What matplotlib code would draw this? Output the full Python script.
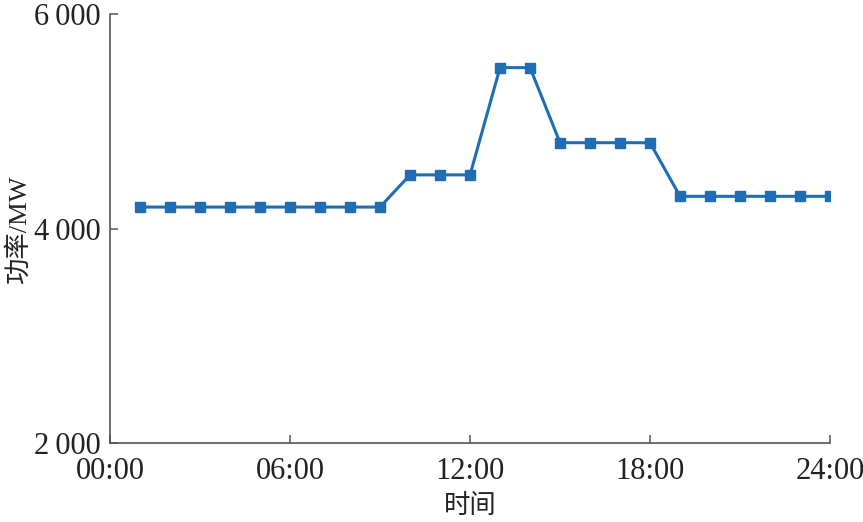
"""Hourly power profile (功率/MW vs 时间), step-like load curve with square markers."""

import matplotlib

matplotlib.use("Agg")
import matplotlib.pyplot as plt  # noqa: E402
from matplotlib.ticker import FuncFormatter  # noqa: E402

plt.rcParams["font.family"] = ["Liberation Serif", "Noto Sans CJK SC", "DejaVu Sans"]

# Hour of day for each point and the power reading at that hour.
hours = list(range(1, 25))
power_mw = [
    4200, 4200, 4200, 4200, 4200, 4200, 4200, 4200, 4200,
    4500, 4500, 4500,
    5500, 5500,
    4800, 4800, 4800, 4800,
    4300, 4300, 4300, 4300, 4300, 4300,
]

x_ticks = [0, 6, 12, 18, 24]
x_tick_labels = ["00:00", "06:00", "12:00", "18:00", "24:00"]
y_ticks = [2000, 4000, 6000]

LINE_COLOUR = "#1f6db5"
AXIS_COLOUR = "#555555"


def _thousands(v, _pos):
    # thin space as the thousands separator, like the printed figure
    return f"{int(v):,}".replace(",", "\u2009")


fig = plt.figure(figsize=(8.63, 5.22), dpi=100)
ax = fig.add_axes([0.1275, 0.1513, 0.8343, 0.8219])

ax.plot(
    hours,
    power_mw,
    color=LINE_COLOUR,
    linewidth=2.2,
    marker="s",
    markersize=7.5,
    markerfacecolor=LINE_COLOUR,
    markeredgecolor=LINE_COLOUR,
)

ax.set_xlim(0, 24)
ax.set_ylim(2000, 6000)
ax.set_xticks(x_ticks)
ax.set_xticklabels(x_tick_labels)
ax.set_yticks(y_ticks)
ax.yaxis.set_major_formatter(FuncFormatter(_thousands))

for side in ("top", "right"):
    ax.spines[side].set_visible(False)
for side in ("left", "bottom"):
    ax.spines[side].set_color(AXIS_COLOUR)
    ax.spines[side].set_linewidth(1.2)

ax.tick_params(
    axis="both", direction="in", length=6, width=1.1,
    color=AXIS_COLOUR, labelsize=22, labelcolor="#222222",
)
ax.tick_params(axis="x", pad=10)
ax.tick_params(axis="y", pad=7)

ax.set_xlabel("时间", fontsize=19, color="#222222", labelpad=6)
ax.set_ylabel("功率/MW", fontsize=19, color="#222222", labelpad=2)

fig.savefig("out.png", dpi=100)
plt.close(fig)
